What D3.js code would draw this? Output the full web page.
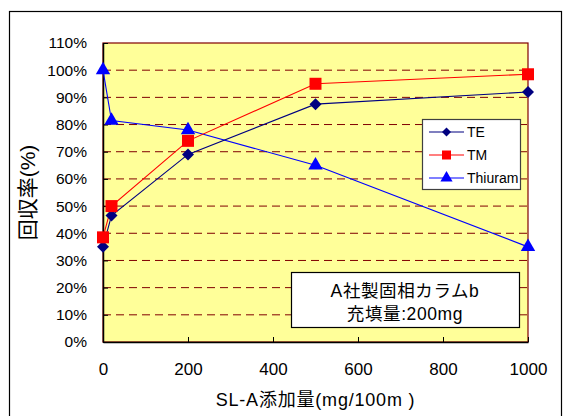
<!DOCTYPE html>
<html>
<head>
<meta charset="utf-8">
<script src="https://cdn.jsdelivr.net/npm/d3@7"></script>
<style>
  html, body { margin: 0; padding: 0; background: #fff; }
  svg { display: block; }
  text { font-family: "Liberation Sans", Arial, "Noto Sans CJK JP", sans-serif; fill: #000; }
</style>
</head>
<body>
<svg id="chart" width="565" height="416"></svg>
<script>
// Additive amount of SL-A (mg/100m)
const amounts = [0, 20, 200, 500, 1000];
// Recovery rates
const teValues = [0.35, 0.465, 0.69, 0.875, 0.92];
const tmValues = [0.385, 0.50, 0.74, 0.95, 0.985];
const thiuramValues = [1.00, 0.815, 0.78, 0.65, 0.35];
const seriesNames = ["TE", "TM", "Thiuram"];
const xTicks = [0, 200, 400, 600, 800, 1000];
const yTicks = [0, 0.1, 0.2, 0.3, 0.4, 0.5, 0.6, 0.7, 0.8, 0.9, 1.0, 1.1];
const noteLines = ["A社製固相カラムb", "充填量:200mg"];
const xTitle = "SL-A添加量(mg/100m )";
const yTitle = "回収率(%)";

const svg = d3.select("#chart");

const plot = { left: 103, right: 528, top: 43, bottom: 342 };
const x = d3.scaleLinear().domain([0, 1000]).range([plot.left, plot.right]);
const y = d3.scaleLinear().domain([0, 1.1]).range([plot.bottom, plot.top]);

// outer chart frame
svg.append("rect")
  .attr("x", 9.5).attr("y", 11.5)
  .attr("width", 552).attr("height", 430)
  .attr("fill", "#fff").attr("stroke", "#000").attr("stroke-width", 1.2);

// plot area
svg.append("rect")
  .attr("x", plot.left).attr("y", plot.top)
  .attr("width", plot.right - plot.left).attr("height", plot.bottom - plot.top)
  .attr("fill", "#ffff99").attr("stroke", "#800000").attr("stroke-width", 1.2);

// dashed horizontal gridlines
svg.append("g").selectAll("line")
  .data(yTicks.filter(d => d > 0 && d < 1.1))
  .join("line")
  .attr("x1", plot.left).attr("x2", plot.right)
  .attr("y1", d => y(d)).attr("y2", d => y(d))
  .attr("stroke", "#800000").attr("stroke-width", 1)
  .attr("stroke-dasharray", "8,5");

// axes
const yAxis = d3.axisLeft(y).tickValues(yTicks).tickFormat(d3.format(".0%"))
  .tickSizeInner(-5).tickSizeOuter(0).tickPadding(16);
const yg = svg.append("g").attr("transform", `translate(${plot.left},0)`).call(yAxis);
yg.selectAll("text").style("font-size", "15.5px");

const xAxis = d3.axisBottom(x).tickValues(xTicks).tickFormat(d3.format("d"))
  .tickSizeInner(-5).tickSizeOuter(0).tickPadding(21);
const xg = svg.append("g").attr("transform", `translate(0,${plot.bottom})`).call(xAxis);
xg.selectAll("text").style("font-size", "17px");

[yg, xg].forEach(g => {
  g.select(".domain").attr("stroke", "#000").attr("stroke-width", 1.5);
  g.selectAll(".tick line").attr("stroke", "#000");
});

// axis titles
svg.append("text")
  .attr("x", (plot.left + plot.right) / 2).attr("y", 406)
  .attr("text-anchor", "middle")
  .style("font-size", "18px").style("letter-spacing", "0.8px")
  .text(xTitle);

svg.append("text")
  .attr("transform", `translate(35,${(plot.top + plot.bottom) / 2}) rotate(-90)`)
  .attr("text-anchor", "middle")
  .style("font-size", "21px")
  .text(yTitle);

// series
const series = [
  { name: seriesNames[2], values: thiuramValues, color: "#0000ff", shape: "triangle" },
  { name: seriesNames[0], values: teValues, color: "#000080", shape: "diamond" },
  { name: seriesNames[1], values: tmValues, color: "#ff0000", shape: "square" }
];

const symbolFor = (shape, big) => {
  if (shape === "diamond") return d3.symbol().type(d3.symbolDiamond2).size(big ? 92 : 52)();
  if (shape === "square") return d3.symbol().type(d3.symbolSquare).size(big ? 144 : 81)();
  return d3.symbol().type(d3.symbolTriangle).size(big ? 90 : 64)();
};

const line = d3.line().x(d => x(d[0])).y(d => y(d[1]));

series.forEach(s => {
  const pts = amounts.map((a, i) => [a, s.values[i]]);
  svg.append("path")
    .attr("d", line(pts))
    .attr("fill", "none").attr("stroke", s.color).attr("stroke-width", 1.1);
});
series.forEach(s => {
  const pts = amounts.map((a, i) => [a, s.values[i]]);
  svg.append("g").selectAll("path")
    .data(pts)
    .join("path")
    .attr("transform", d => `translate(${x(d[0])},${y(d[1])})`)
    .attr("d", symbolFor(s.shape, true))
    .attr("fill", s.color);
});

// legend
const legend = svg.append("g");
legend.append("rect")
  .attr("x", 422.5).attr("y", 119.5).attr("width", 98).attr("height", 70)
  .attr("fill", "#fff").attr("stroke", "#404040").attr("stroke-width", 1.2);
const legendOrder = [series[1], series[2], series[0]];
legendOrder.forEach((s, i) => {
  const ly = 132 + i * 23;
  legend.append("line")
    .attr("x1", 429).attr("x2", 464).attr("y1", ly).attr("y2", ly)
    .attr("stroke", s.color).attr("stroke-width", 1.1);
  legend.append("path")
    .attr("transform", `translate(446.5,${ly})`)
    .attr("d", symbolFor(s.shape, false))
    .attr("fill", s.color);
  legend.append("text")
    .attr("x", 467).attr("y", ly + 5)
    .style("font-size", "14px")
    .text(s.name);
});

// annotation box
const note = svg.append("g");
note.append("rect")
  .attr("x", 291.5).attr("y", 272.5).attr("width", 228).attr("height", 55)
  .attr("fill", "#fff").attr("stroke", "#000").attr("stroke-width", 1.2);
noteLines.forEach((t, i) => {
  note.append("text")
    .attr("x", 405).attr("y", 297 + i * 23)
    .attr("text-anchor", "middle")
    .style("font-size", "17.5px").style("letter-spacing", "0.6px")
    .text(t);
});
</script>
</body>
</html>
